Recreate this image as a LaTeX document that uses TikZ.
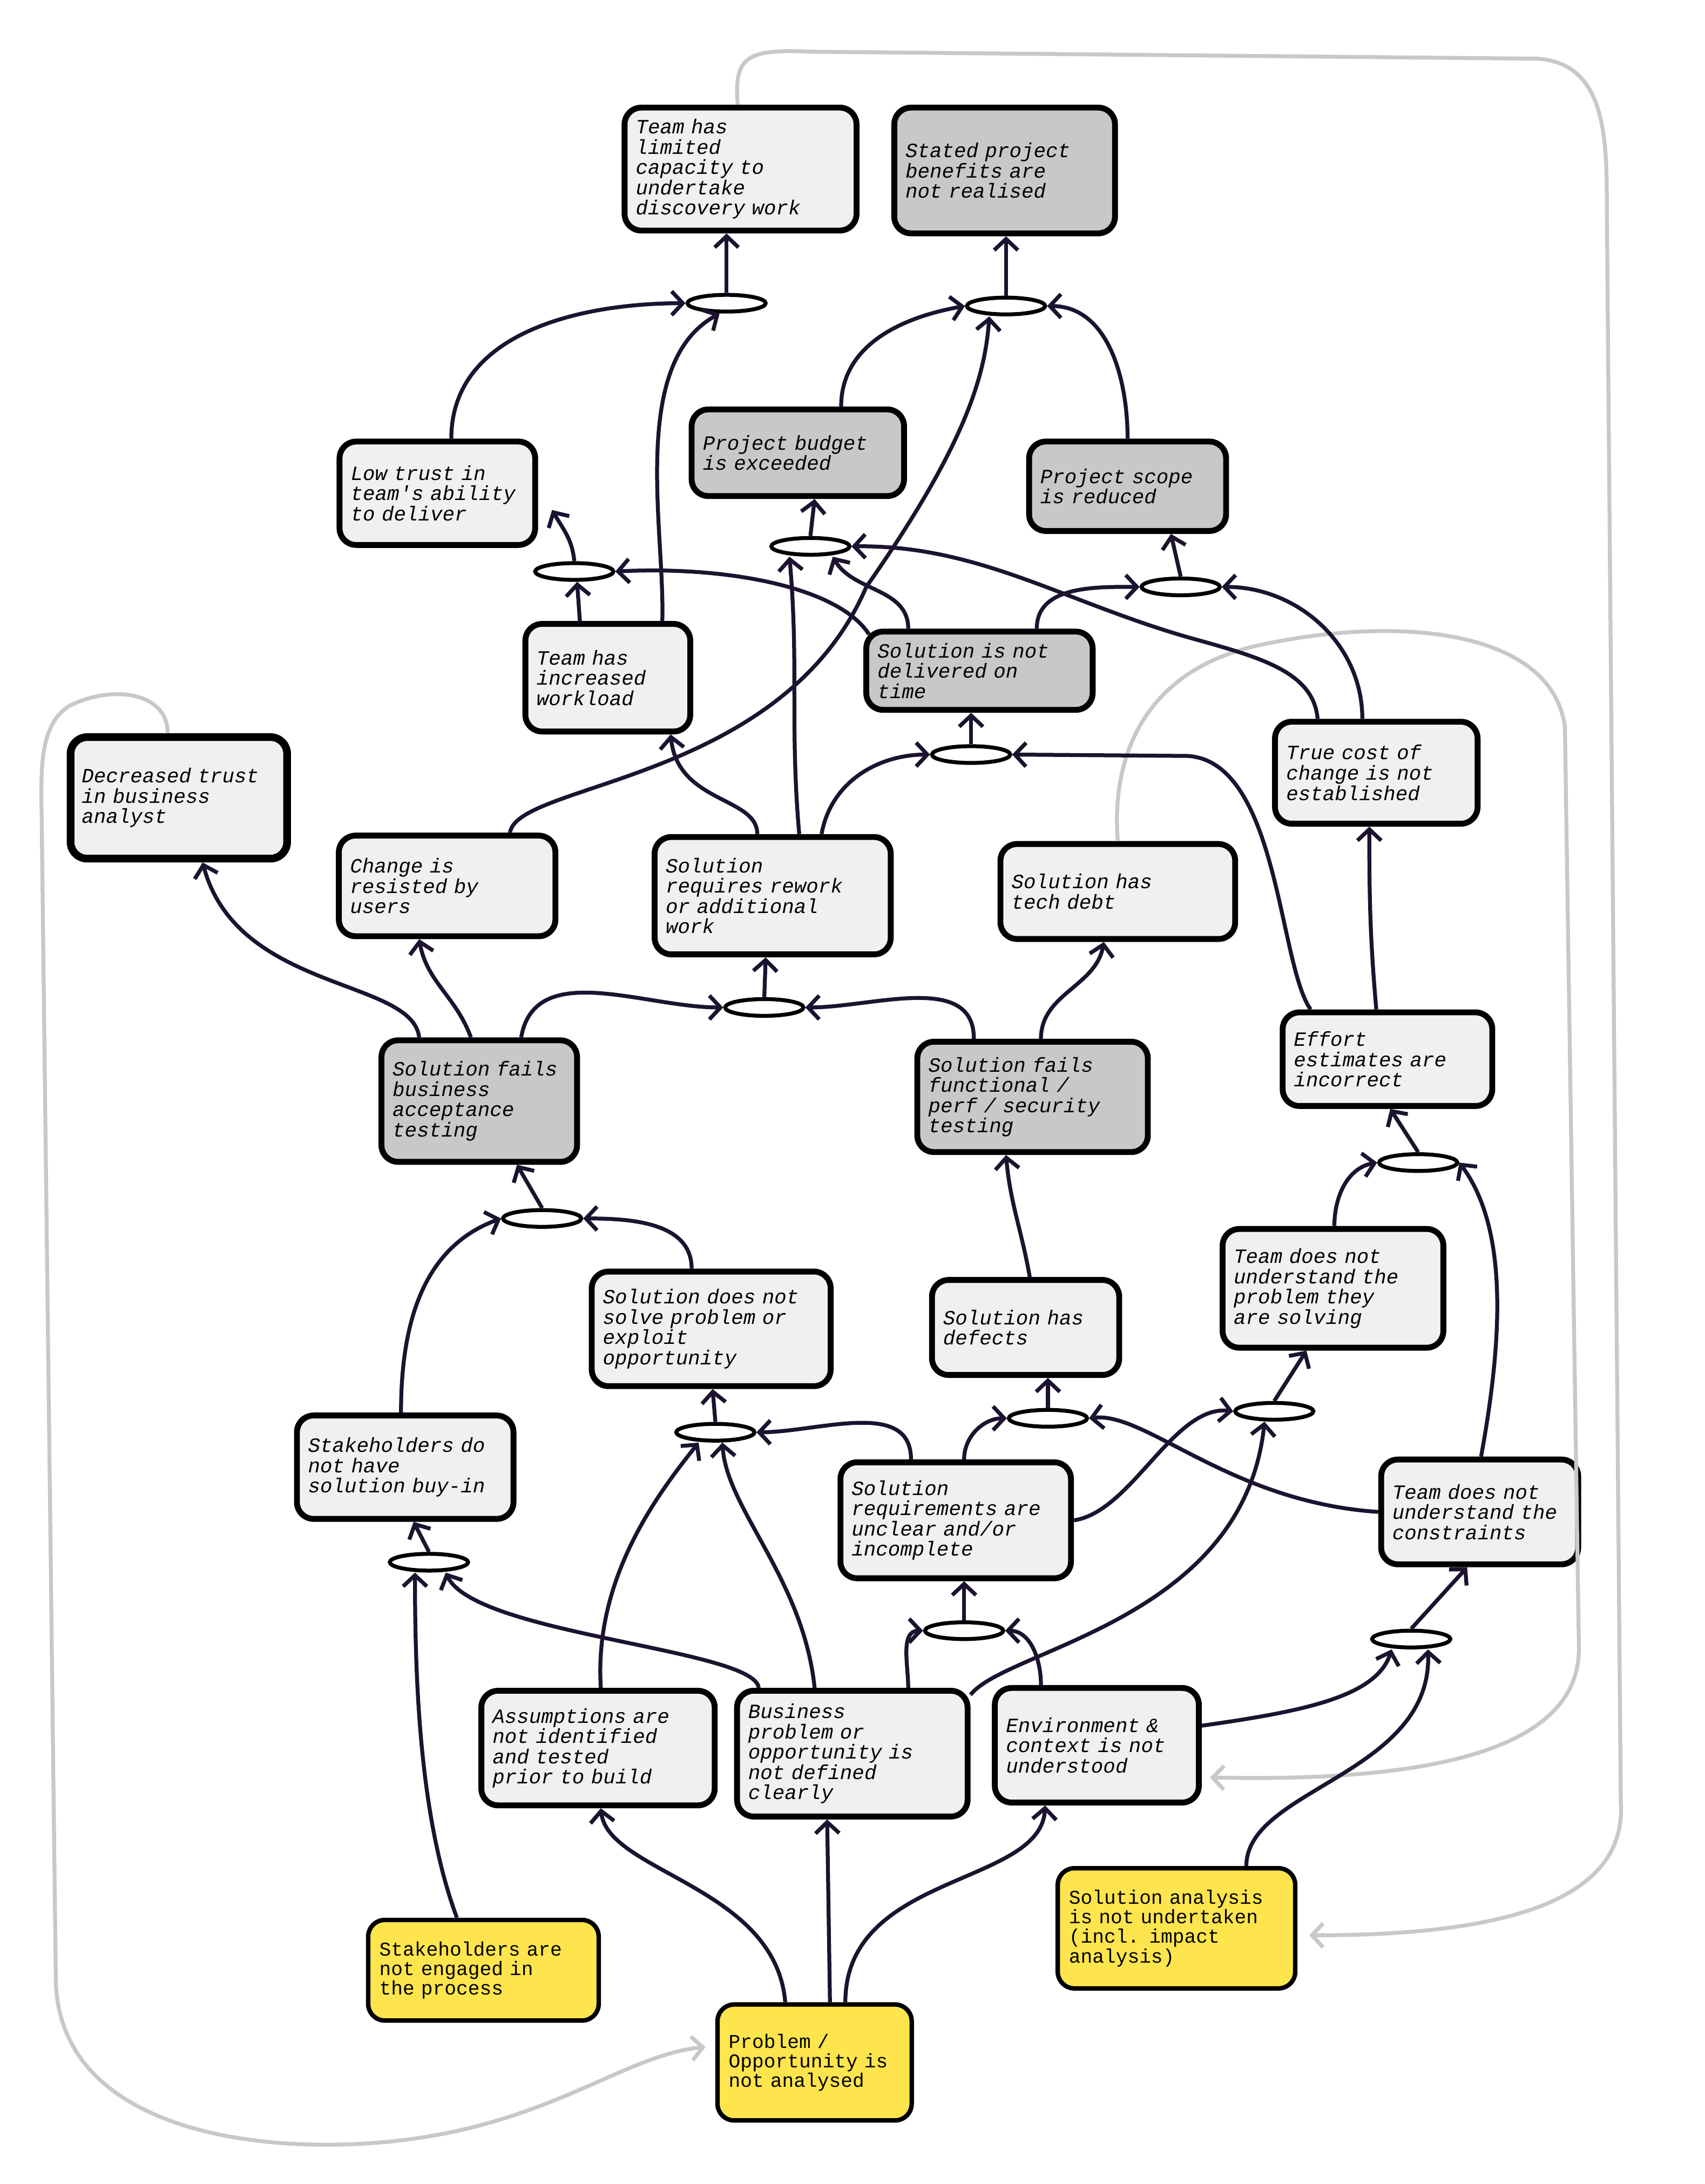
\documentclass[tikz,border=0pt]{standalone}
\usepackage{fontspec}
\newfontfamily\hand{Liberation Mono}
\usetikzlibrary{shapes.geometric,arrows.meta,calc}
\definecolor{edgec}{HTML}{1C1330}
\definecolor{lightg}{HTML}{F0F0F0}
\definecolor{darkg}{HTML}{C8C8C8}
\definecolor{yell}{HTML}{FFE54D}
\definecolor{gline}{HTML}{C8C8C8}
\hyphenpenalty=10000
\exhyphenpenalty=10000
\begin{document}
\begin{tikzpicture}[x=1pt,y=-1pt,
 box/.style={draw=black,line width=4.2pt,rounded corners=12pt,align=left,inner sep=0pt,font=\hand\itshape\fontsize{14.5}{14.5}\selectfont},
 lt/.style={box,fill=lightg},
 dk/.style={box,fill=darkg},
 yl/.style={box,fill=yell,line width=3.2pt,font=\hand\fontsize{14}{14}\selectfont},
 conn/.style={ellipse,draw=black,fill=white,line width=2.8pt,minimum width=56pt,minimum height=12pt,inner sep=0pt},
 e/.style={draw=edgec,line width=2.8pt,-{Straight Barb[length=8pt,width=17pt,line width=2.8pt]}},
 g/.style={draw=gline,line width=2.8pt,-{Straight Barb[length=8pt,width=17pt,line width=2.8pt]}}]
\useasboundingbox (0,0) rectangle (1220,1563);
\fill[white] (0,0) rectangle (1220,1563);
\coordinate (g1e) at (937,1385);
\coordinate (g2e) at (505,1465);
\coordinate (g3e) at (866,1272);
\newcommand\bx[6]{\node[#1,minimum width=#4pt,minimum height=#5pt,text width=#4pt-16pt] (#2) at (#3) {#6};}
\bx{lt}{cap}{530,121}{166}{88}{Team has\\limited\\capacity to\\undertake\\discovery work}
\bx{dk}{ben}{719,122}{158}{90}{Stated project\\benefits are\\not realised}
\bx{lt}{low}{313,353}{140}{74}{Low trust in\\team's ability\\to deliver}
\bx{dk}{bud}{571,324}{152}{62}{Project budget\\is exceeded}
\bx{dk}{scope}{807,348}{141}{64}{Project scope\\is reduced}
\bx{lt}{work}{435,485}{118}{77}{Team has\\increased\\workload}
\bx{dk}{time}{701,480}{162}{56}{Solution is not\\delivered on\\time}
\bx{lt}{cost}{985,553}{145}{73}{True cost of\\change is not\\established}
\node[lt,line width=5.5pt,minimum width=155pt,minimum height=87pt,text width=139pt] (dtrust) at (128,571) {Decreased trust\\in business\\analyst};
\bx{lt}{resist}{320,634}{155}{72}{Change is\\resisted by\\users}
\bx{lt}{rework}{553,641}{169}{84}{Solution\\requires rework\\or additional\\work}
\bx{lt}{tech}{800,638}{168}{68}{Solution has\\tech debt}
\bx{dk}{bat}{343,788}{140}{87}{Solution fails\\business\\acceptance\\testing}
\bx{dk}{func}{739,785}{165}{79}{Solution fails\\functional /\\perf / security\\testing}
\bx{lt}{effort}{993,758}{150}{67}{Effort\\estimates are\\incorrect}
\bx{lt}{probl}{954,922}{158}{85}{Team does not\\understand the\\problem they\\are solving}
\bx{lt}{notsolve}{509,951}{171}{82}{Solution does not\\solve problem or\\exploit\\opportunity}
\bx{lt}{defects}{734,950}{134}{68}{Solution has\\defects}
\bx{lt}{buyin}{290,1050}{155}{74}{Stakeholders do\\not have\\solution buy-in}
\bx{lt}{req}{684,1088}{165}{83}{Solution\\requirements are\\unclear and/or\\incomplete}
\bx{lt}{constr}{1059,1082}{141}{75}{Team does not\\understand the\\constraints}
\bx{lt}{assum}{428,1251}{167}{82}{Assumptions are\\not identified\\and tested\\prior to build}
\bx{lt}{bizp}{610,1255}{165}{90}{Business\\problem or\\opportunity is\\not defined\\clearly}
\bx{lt}{env}{785,1249}{146}{82}{Environment \&\\context is not\\understood}
\bx{yl}{stake}{346,1410}{165}{72}{Stakeholders are\\not engaged in\\the process}
\bx{yl}{analysis}{842,1380}{170}{86}{Solution analysis\\is not undertaken\\(incl. impact\\analysis)}
\bx{yl}{probopp}{583,1476}{139}{83}{Problem /\\Opportunity is\\not analysed}
% gray loops
\draw[g] ([xshift=-2pt]cap.north) .. controls (525,40) and (535,35) .. (580,37) -- (1100,42) .. controls (1150,45) and (1150,100) .. (1150,150) -- (1160,1290) .. controls (1165,1370) and (1050,1385) .. (g1e);
\draw[g] ([xshift=-8pt]dtrust.north) .. controls (120,495) and (80,490) .. (50,505) .. controls (25,520) and (30,560) .. (30,600) -- (40,1420) .. controls (45,1530) and (200,1545) .. (300,1530) .. controls (400,1515) and (450,1470) .. (g2e);
\draw[g] (tech.north) .. controls (795,540) and (820,480) .. (900,462) .. controls (1000,440) and (1110,450) .. (1120,520) -- (1130,1180) .. controls (1130,1260) and (1000,1275) .. (g3e);
% connectors (ellipses)
\node[conn] (A) at (520,217) {};
\node[conn] (B) at (720,219) {};
\node[conn] (C) at (411,409) {};
\node[conn] (D) at (580,391) {};
\node[conn] (E) at (845,420) {};
\node[conn] (F) at (695,540) {};
\node[conn] (G) at (547,721) {};
\node[conn] (H) at (1015,832) {};
\node[conn] (I) at (388,872) {};
\node[conn] (J) at (750,1015) {};
\node[conn] (K) at (912,1010) {};
\node[conn] (L) at (512,1025) {};
\node[conn] (M) at (307,1118) {};
\node[conn] (N) at (690,1167) {};
\node[conn] (O) at (1010,1173) {};
% edges
\draw[e] (A.north) -- ([xshift=-10pt]cap.south);
\draw[e] ([xshift=10pt]low.north) to[out=90,in=180] (A.west);
\draw[e] ([xshift=39pt]work.north) .. controls (476,380) and (450,260) .. ([xshift=-5pt]A.south);
\draw[e] (B.north) -- ([xshift=1pt]ben.south);
\draw[e] ([xshift=31pt]bud.north) to[out=90,in=190] (B.west);
\draw[e] (scope.north) to[out=90,in=0] (B.east);
\draw[e] ([xshift=45pt]resist.north) .. controls (370,560) and (560,560) .. (620,420) .. controls (690,320) and (705,270) .. ([xshift=-12pt]B.south);
\draw[e] (C.north) to[out=95,in=-60] ($(low.east)+(10,12)$);
\draw[e] ([xshift=-20pt]work.north) -- ([xshift=2pt]C.south);
\draw[e] ($(time.north west)+(4,4)$) .. controls (600,420) and (520,405) .. (C.east);
\draw[e] (D.north) -- ([xshift=12pt]bud.south);
\draw[e] ([xshift=19pt]rework.north) to[out=95,in=-85] ([xshift=-15pt]D.south);
\draw[e] ([xshift=-51pt]time.north) to[out=90,in=-60] ([xshift=16pt]D.south);
\draw[e] ([xshift=-42pt]cost.north) .. controls (940,480) and (900,470) .. (850,456) .. controls (760,430) and (700,390) .. (D.east);
\draw[e] ([xshift=41pt]time.north) to[out=90,in=180] (E.west);
\draw[e] ([xshift=-10pt]cost.north) to[out=90,in=0] (E.east);
\draw[e] (E.north) -- ([xshift=31pt]scope.south);
\draw[e] (F.north) -- ([xshift=-6pt]time.south);
\draw[e] ([xshift=35pt]rework.north) to[out=80,in=180] (F.west);
\draw[e] ([xshift=-55pt]effort.north) .. controls (915,690) and (915,545) .. (850,541) -- (F.east);
\draw[e] ([xshift=-11pt]rework.north) .. controls (542,570) and (485,575) .. ([xshift=45pt]work.south);
\draw[e] (G.north) -- ([xshift=-5pt]rework.south);
\draw[e] ([xshift=30pt]bat.north) to[out=80,in=180] (G.west);
\draw[e] ([xshift=-42pt]func.north) to[out=90,in=0] (G.east);
\draw[e] ([xshift=-43pt]bat.north) .. controls (295,700) and (170,710) .. ([xshift=17pt]dtrust.south);
\draw[e] ([xshift=-6pt]bat.north) to[out=110,in=-80] ([xshift=-20pt]resist.south);
\draw[e] ([xshift=6pt]func.north) to[out=90,in=-100] ([xshift=-10pt]tech.south);
\draw[e] ([xshift=-8pt]effort.north) to[out=95,in=-90] ([xshift=-5pt]cost.south);
\draw[e] (H.north) -- ([xshift=2pt]effort.south);
\draw[e] ([xshift=1pt]probl.north) to[out=90,in=190] (H.west);
\draw[e] ([xshift=1pt]constr.north) .. controls (1075,960) and (1080,880) .. (H.east);
\draw[e] (I.north) -- ([xshift=27pt]bat.south);
\draw[e] ([xshift=-3pt]buyin.north) to[out=90,in=200] (I.west);
\draw[e] ([xshift=-14pt]notsolve.north) to[out=90,in=0] (I.east);
\draw[e] ([xshift=3pt]defects.north) to[out=100,in=-85] ([xshift=-19pt]func.south);
\draw[e] (J.north) -- ([xshift=16pt]defects.south);
\draw[e] ([xshift=6pt]req.north) to[out=90,in=180] (J.west);
\draw[e] (constr.west) .. controls (880,1075) and (820,1010) .. (J.east);
\draw[e] (K.north) -- ([xshift=-19pt]probl.south);
\draw[e] (req.east) .. controls (810,1082) and (840,1005) .. (K.west);
\draw[e] ($(bizp.north east)+(0,5)$) .. controls (720,1180) and (890,1160) .. ([xshift=-7pt]K.south);
\draw[e] (L.north) -- ([xshift=1pt]notsolve.south);
\draw[e] ([xshift=-32pt]req.north) to[out=90,in=0] (L.east);
\draw[e] ([xshift=2pt]assum.north) .. controls (425,1130) and (470,1070) .. ([xshift=-12pt]L.south);
\draw[e] ([xshift=-27pt]bizp.north) .. controls (575,1130) and (520,1080) .. ([xshift=5pt]L.south);
\draw[e] (M.north) -- ([xshift=6pt]buyin.south);
\draw[e] ([xshift=-19pt]stake.north) .. controls (300,1300) and (297,1200) .. ([xshift=-10pt]M.south);
\draw[e] ([xshift=-67pt]bizp.north) .. controls (540,1180) and (340,1170) .. ([xshift=12pt]M.south);
\draw[e] (N.north) -- ([xshift=6pt]req.south);
\draw[e] ([xshift=40pt]bizp.north) to[out=90,in=180] (N.west);
\draw[e] ([xshift=-40pt]env.north) to[out=90,in=0] (N.east);
\draw[e] (O.north) -- ([xshift=-9pt]constr.south);
\draw[e] ($(env.east)+(0,-14)$) .. controls (930,1225) and (985,1215) .. ([xshift=-14pt]O.south);
\draw[e] ([xshift=50pt]analysis.north) .. controls (892,1280) and (1025,1270) .. ([xshift=12pt]O.south);
\draw[e] ([xshift=-21pt]probopp.north) .. controls (555,1350) and (435,1340) .. ([xshift=2pt]assum.south);
\draw[e] ([xshift=11pt]probopp.north) -- ([xshift=-18pt]bizp.south);
\draw[e] ([xshift=22pt]probopp.north) .. controls (605,1340) and (745,1350) .. ([xshift=-37pt]env.south);
\end{tikzpicture}
\end{document}
